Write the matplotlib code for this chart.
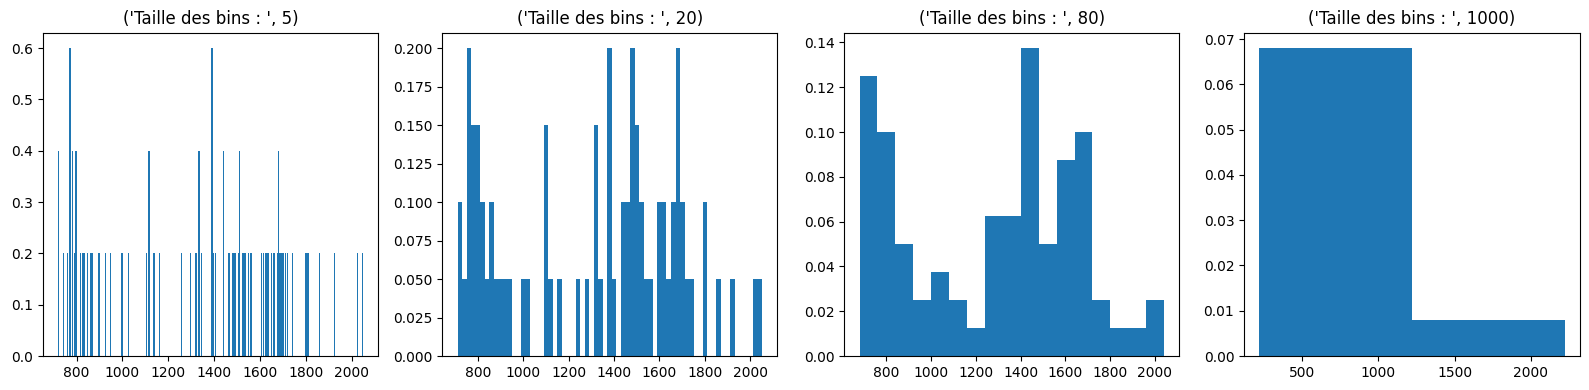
import numpy as np
import matplotlib.pyplot as plt

bin_sizes = [5, 20, 80, 1000]

# panel 1 : bins of 5, only non-empty bins (centres / heights)
p1_centres = [721, 741, 761, 771, 781, 791, 796, 801, 816, 826, 831, 836, 846,
              861, 866, 871, 896, 901, 926, 946, 996, 1001, 1026,
              1106, 1116, 1136, 1141, 1161, 1256, 1296, 1321, 1331, 1336, 1346,
              1391, 1396, 1406, 1441, 1461, 1466, 1481, 1486, 1491, 1506, 1511,
              1526, 1531, 1536, 1551, 1561,
              1606, 1616, 1626, 1631, 1636, 1651, 1661, 1676, 1681, 1686, 1691,
              1696, 1701, 1711, 1721, 1741, 1801, 1806, 1811, 1861, 1926, 2026, 2046]
p1_heights = [0.4, 0.2, 0.2, 0.6, 0.4, 0.2, 0.4, 0.4, 0.2, 0.2, 0.2, 0.2, 0.2,
              0.2, 0.2, 0.2, 0.2, 0.2, 0.2, 0.2, 0.2, 0.2, 0.2,
              0.2, 0.4, 0.2, 0.2, 0.2, 0.2, 0.2, 0.2, 0.4, 0.4, 0.2,
              0.6, 0.2, 0.2, 0.4, 0.2, 0.2, 0.2, 0.2, 0.2, 0.2, 0.4,
              0.2, 0.2, 0.2, 0.2, 0.2,
              0.2, 0.2, 0.2, 0.2, 0.2, 0.2, 0.2, 0.2, 0.4, 0.2, 0.2,
              0.2, 0.2, 0.2, 0.2, 0.2, 0.2, 0.2, 0.2, 0.2, 0.2, 0.2, 0.2]

# panel 2 : bins of 20 starting at 711
p2_start = 711
p2_heights = [0.1, 0.05, 0.2, 0.15, 0.15, 0.1, 0.05, 0.1, 0.05, 0.05, 0.05, 0.05,
              0, 0, 0.05, 0.05, 0, 0, 0, 0.15, 0.05, 0, 0.05, 0, 0, 0, 0.05, 0,
              0.05, 0, 0.15, 0.05, 0, 0.2, 0.05, 0, 0.1, 0.1, 0.2, 0.15, 0.1,
              0.05, 0.05, 0, 0.1, 0.1, 0.05, 0.1, 0.2, 0.1, 0.05, 0.05, 0, 0,
              0.1, 0, 0, 0.05, 0, 0, 0.05, 0, 0, 0, 0, 0.05, 0.05]

# panel 3 : bins of 80 starting at 681
p3_start = 681
p3_heights = [0.125, 0.1, 0.05, 0.025, 0.0375, 0.025, 0.0125, 0.0625, 0.0625,
              0.1375, 0.05, 0.0875, 0.1, 0.025, 0.0125, 0.0125, 0.025]

# panel 4 : bins of 1000 starting at 221
p4_start = 221
p4_heights = [0.068, 0.008]

fig = plt.figure(figsize=(15.89, 3.9), dpi=100)
W, H = 1589, 390
rects = [(42.7, 378), (442.3, 777), (844.3, 1179.3), (1244, 1580)]
axes = []
for l, r in rects:
    axes.append(fig.add_axes([l / W, 1 - 356 / H, (r - l) / W, (356 - 32.7) / H]))

# panel 1
w = bin_sizes[0]
e1 = np.arange(p1_centres[0] - w / 2, p1_centres[-1] + w, w)
axes[0].hist(p1_centres, bins=e1, weights=p1_heights)

# panels 2-4
for ax, start, hts, w in zip(axes[1:], [p2_start, p3_start, p4_start],
                             [p2_heights, p3_heights, p4_heights], bin_sizes[1:]):
    edges = start + w * np.arange(len(hts) + 1)
    ax.hist(edges[:-1] + w / 2, bins=edges, weights=hts)

for ax, w in zip(axes, bin_sizes):
    ax.set_title(str(('Taille des bins : ', w)))

fig.savefig('out.png')
